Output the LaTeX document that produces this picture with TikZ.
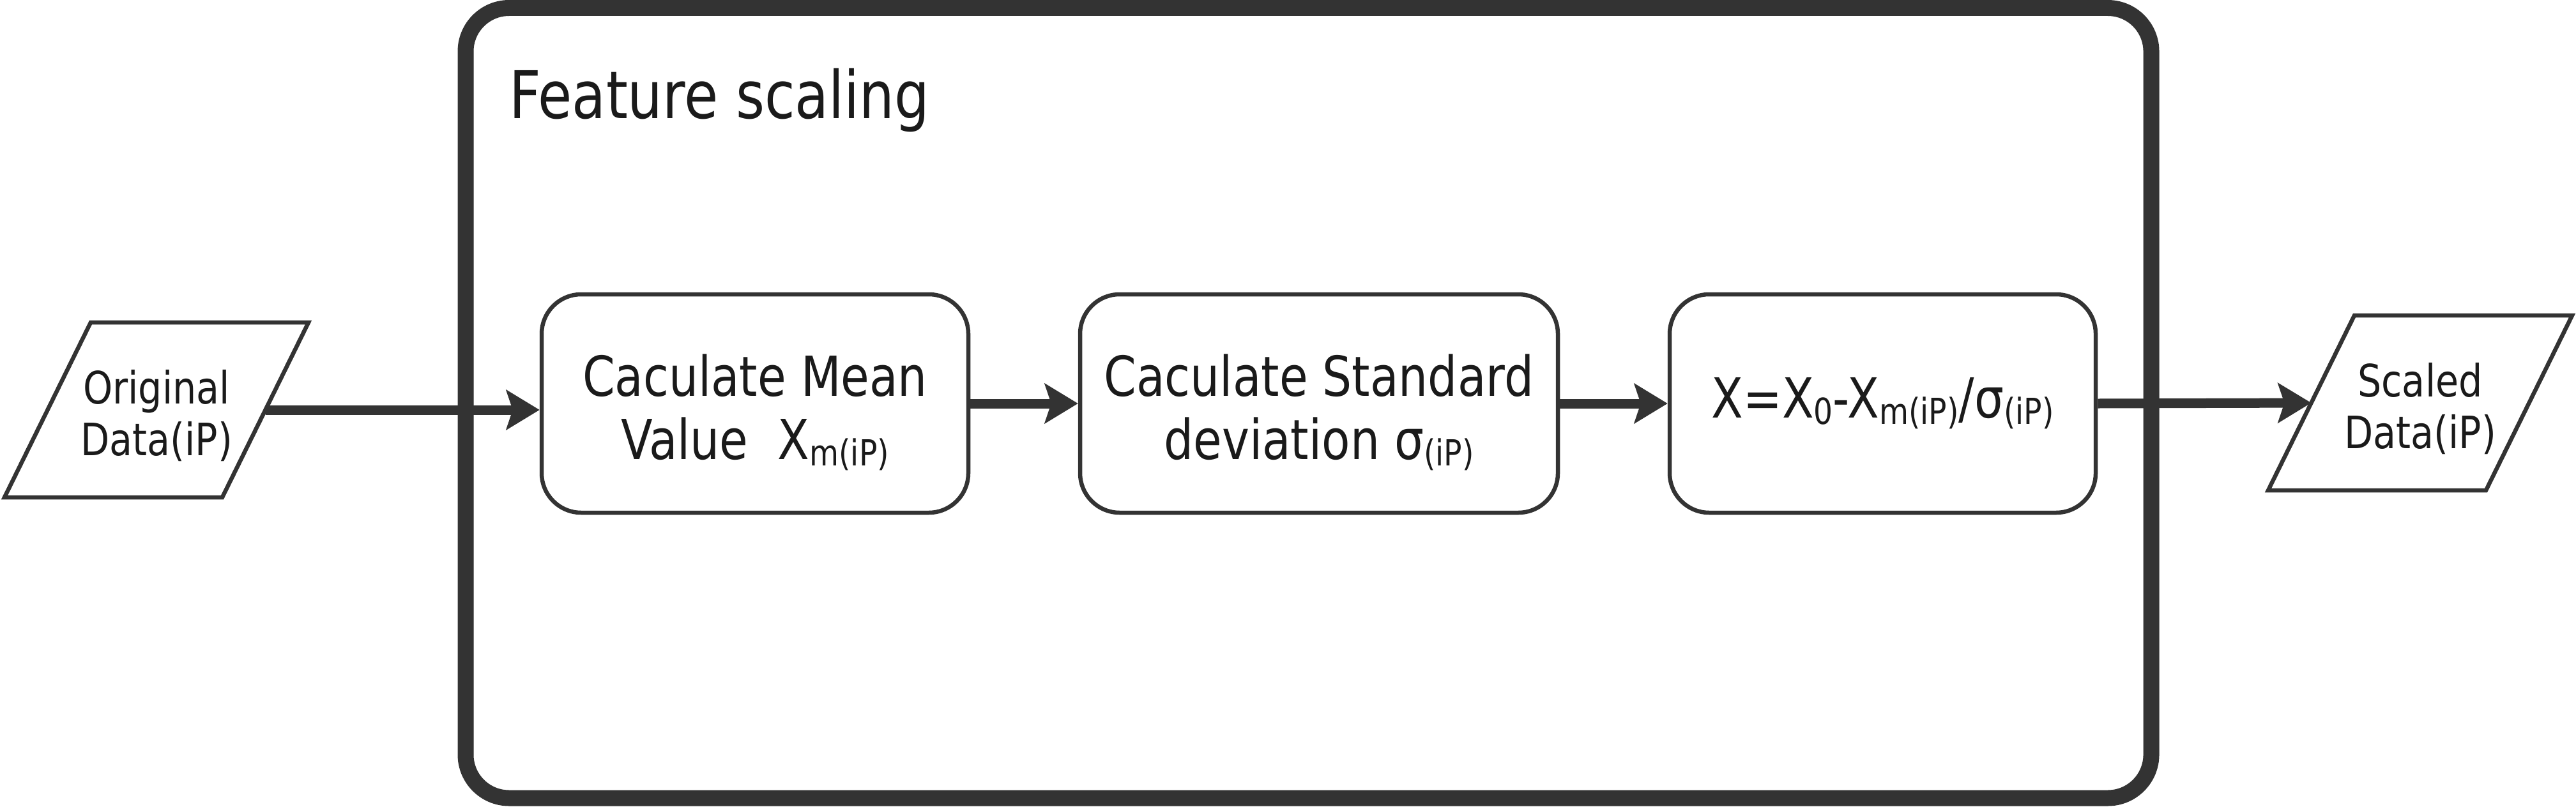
\documentclass[tikz,border=0pt]{standalone}
\usepackage{fontspec}
\setmainfont{DejaVu Sans}[FakeStretch=0.84]
\usepackage{tikz}
\usetikzlibrary{arrows.meta}

\definecolor{linegray}{HTML}{333333}
\definecolor{textgray}{HTML}{1A1A1A}
\newcommand{\lowsub}[1]{\raisebox{-0.1cm}{\fontsize{16pt}{16pt}\selectfont #1}}
\newcommand{\boxstrut}{\rule{0pt}{0.93cm}}
\newcommand{\datastrut}{\rule{0pt}{0.71cm}}

\begin{document}
\begin{tikzpicture}[>={Stealth[length=0.52cm, width=0.62cm, inset=0.1cm]},
  procbox/.style={draw=linegray, line width=0.065cm, rounded corners=0.62cm,
    minimum height=3.42cm, text=textgray, align=center,
    font=\fontsize{24.6pt}{28.3pt}\selectfont},
  databox/.style={minimum width=3.41cm, minimum height=2.74cm,
    inner sep=0pt, outer sep=0pt, text=textgray, align=center,
    font=\fontsize{19.9pt}{23pt}\selectfont},
  dataframe/.style={draw=linegray, line width=0.065cm},
  flow/.style={->, draw=linegray, fill=linegray, line width=0.15cm}]
  \useasboundingbox (0,0) rectangle (40.33,12.63);
  % frame of the scaling stage
  \draw [draw=linegray, line width=0.25cm, rounded corners=0.68cm]
    (7.29,12.505) rectangle (33.68,0.13);
  \node (title) at (7.97,10.78) [anchor=base west, inner sep=0pt, text=textgray,
    font=\fontsize{29.3pt}{33pt}\selectfont] {Feature scaling};
  % input and output data
  \node (orig) at (2.45,6.21) [databox] {\datastrut Original\\Data(iP)};
  \node (scaled) at (37.89,6.32) [databox] {\datastrut Scaled\\Data(iP)};
  \foreach \n in {orig, scaled}
    \draw [dataframe] ([xshift=-0.675cm]\n.south west) -- ([xshift=-0.675cm]\n.south east)
      -- ([xshift=0.675cm]\n.north east) -- ([xshift=0.675cm]\n.north west) -- cycle;
  % the three steps
  \node (mean) at (11.82,6.31) [procbox, minimum width=6.68cm]
    {\boxstrut Caculate Mean\\Value\ \ X\lowsub{m(iP)}};
  \node (stdev) at (20.65,6.31) [procbox, minimum width=7.48cm]
    {\boxstrut Caculate Standard\\deviation σ\lowsub{(iP)}};
  \node (norm) at (29.475,6.31) [procbox, minimum width=6.67cm]
    {X=X\lowsub{0}-X\lowsub{m(iP)}/σ\lowsub{(iP)}};
  % connectors
  \draw [flow] (orig.east) -- (orig.east -| mean.west);
  \draw [flow] (mean) -- (stdev);
  \draw [flow] (stdev) -- (norm);
  \draw [flow] (norm.east) -- (scaled.west);
\end{tikzpicture}
\end{document}
